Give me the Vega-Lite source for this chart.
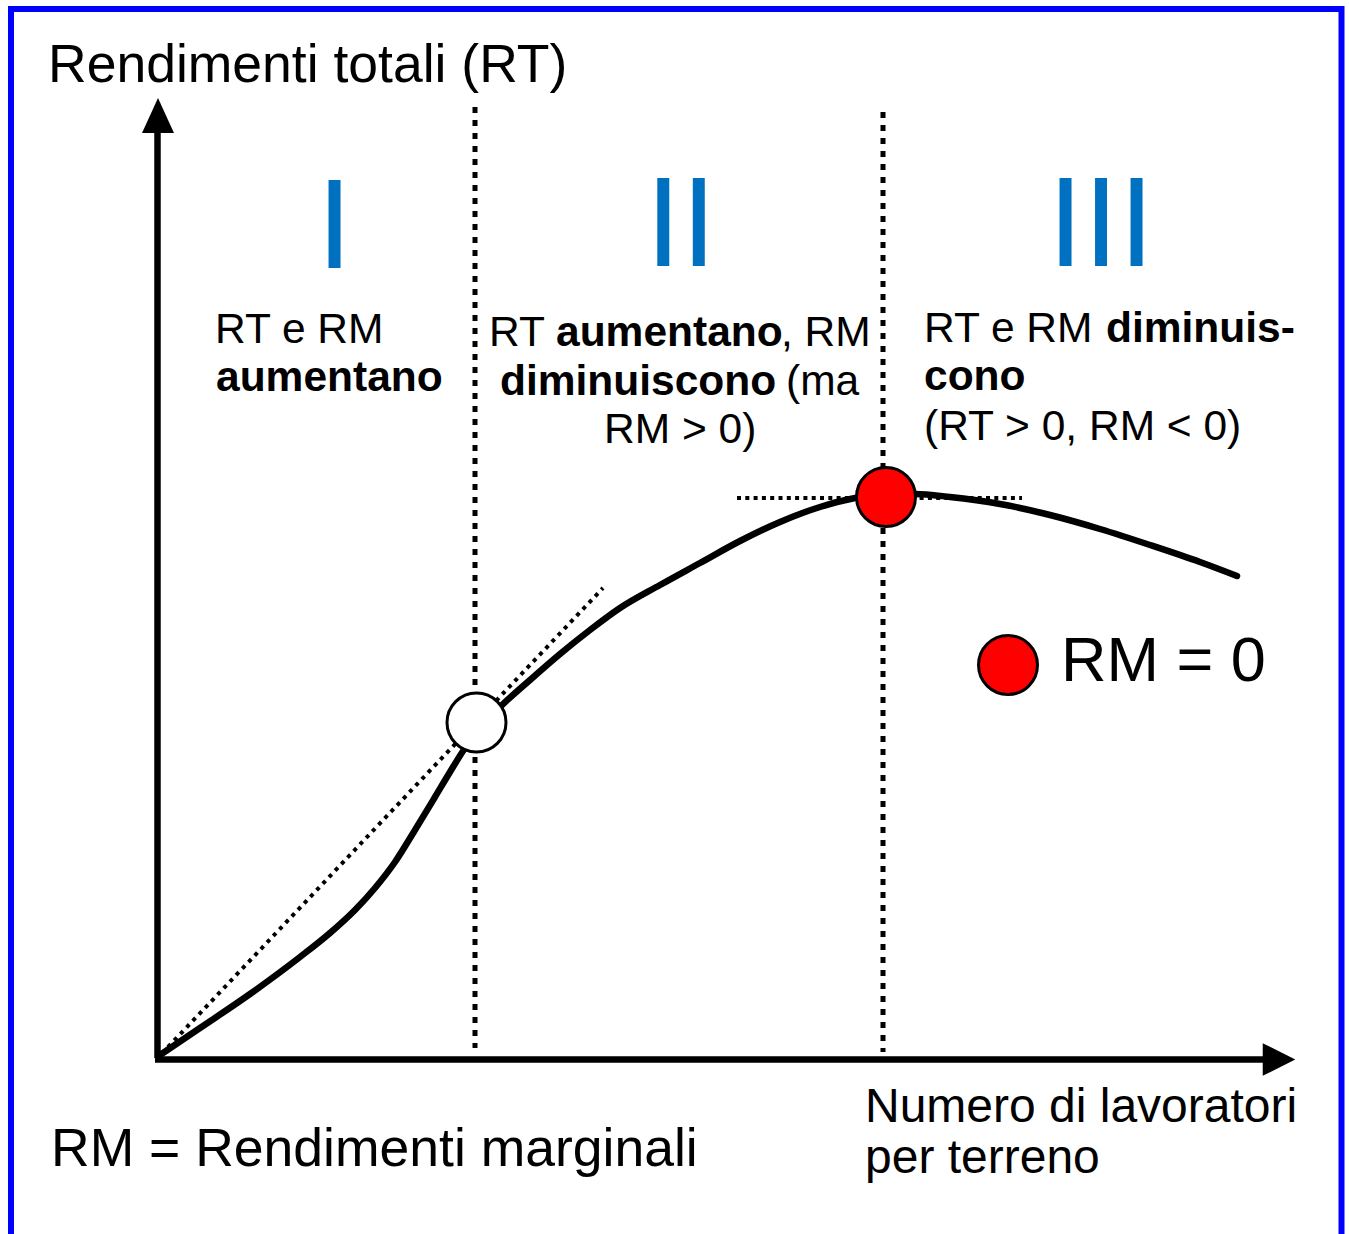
{
  "$schema": "https://vega.github.io/schema/vega-lite/v6.json",
  "width": 1349,
  "height": 1234,
  "autosize": "none",
  "padding": 0,
  "background": "white",
  "config": {"view": {"stroke": null}},
  "datasets": {
    "border": [
      {"x": 11, "y": 6, "x2": 11, "y2": 1234},
      {"x": 8, "y": 9, "x2": 1344, "y2": 9},
      {"x": 1341.5, "y": 6, "x2": 1341.5, "y2": 1234}
    ],
    "axes": [
      {"x": 157.5, "y": 1058, "x2": 157.5, "y2": 128},
      {"x": 155, "y": 1059.5, "x2": 1266, "y2": 1059.5}
    ],
    "arrowUp": [{"x": 158, "y": 115.5}],
    "arrowRight": [{"x": 1279, "y": 1059.5}],
    "vdots": [
      {"x": 475, "y": 107, "x2": 475, "y2": 1048},
      {"x": 883, "y": 112, "x2": 883, "y2": 1052}
    ],
    "hdot": [{"x": 737, "y": 498, "x2": 1022, "y2": 498}],
    "tangent": [{"x": 168, "y": 1047, "x2": 603, "y2": 588}],
    "curve": [
      {"x": 160, "y": 1055}, {"x": 200, "y": 1028}, {"x": 250, "y": 994},
      {"x": 300, "y": 957}, {"x": 330, "y": 933}, {"x": 355, "y": 910},
      {"x": 375, "y": 888}, {"x": 395, "y": 862}, {"x": 415, "y": 830},
      {"x": 435, "y": 797}, {"x": 450, "y": 772}, {"x": 465, "y": 748},
      {"x": 480, "y": 728}, {"x": 500, "y": 707}, {"x": 530, "y": 680},
      {"x": 560, "y": 654}, {"x": 590, "y": 630}, {"x": 620, "y": 608},
      {"x": 660, "y": 585}, {"x": 700, "y": 563}, {"x": 740, "y": 541},
      {"x": 780, "y": 522}, {"x": 820, "y": 507}, {"x": 855, "y": 498},
      {"x": 886, "y": 494}, {"x": 915, "y": 494}, {"x": 950, "y": 497},
      {"x": 1000, "y": 504}, {"x": 1050, "y": 515}, {"x": 1100, "y": 529},
      {"x": 1150, "y": 545}, {"x": 1200, "y": 562}, {"x": 1237, "y": 576}
    ],
    "circles": [
      {"x": 476.5, "y": 722.5, "kind": "white"},
      {"x": 886, "y": 497, "kind": "red"},
      {"x": 1008, "y": 665, "kind": "red"}
    ],
    "titles": [
      {"x": 48, "y": 82, "text": "Rendimenti totali (RT)"},
      {"x": 51, "y": 1166, "text": "RM = Rendimenti marginali"}
    ],
    "xlabel": [
      {"x": 865, "y": 1122, "text": "Numero di lavoratori"},
      {"x": 865, "y": 1173, "text": "per terreno"}
    ],
    "numerals": [
      {"x": 334.5, "y": 268, "text": "I"},
      {"x": 681, "y": 266, "text": "II"},
      {"x": 1101, "y": 266, "text": "III"}
    ],
    "panelNormal": [
      {"x": 215, "y": 343, "text": "RT e RM"},
      {"x": 489, "y": 346, "text": "RT"},
      {"x": 781, "y": 346, "text": ", RM"},
      {"x": 786, "y": 395, "text": "(ma"},
      {"x": 604, "y": 443, "text": "RM > 0)"},
      {"x": 924, "y": 342, "text": "RT e RM"},
      {"x": 924, "y": 440, "text": "(RT > 0, RM < 0)"}
    ],
    "panelBold": [
      {"x": 216, "y": 391, "text": "aumentano"},
      {"x": 556, "y": 346, "text": "aumentano"},
      {"x": 500, "y": 395, "text": "diminuiscono"},
      {"x": 1106, "y": 342, "text": "diminuis-"},
      {"x": 924, "y": 390, "text": "cono"}
    ],
    "legendText": [{"x": 1061, "y": 681, "text": "RM = 0"}]
  },
  "encoding": {
    "x": {"field": "x", "type": "quantitative", "scale": {"domain": [0, 1349], "nice": false, "zero": false}, "axis": null},
    "y": {"field": "y", "type": "quantitative", "scale": {"domain": [1234, 0], "nice": false, "zero": false}, "axis": null}
  },
  "layer": [
    {
      "data": {"name": "border"},
      "mark": {"type": "rule", "color": "#0000FF", "strokeWidth": 6},
      "encoding": {"x2": {"field": "x2"}, "y2": {"field": "y2"}}
    },
    {
      "data": {"name": "vdots"},
      "mark": {"type": "rule", "color": "black", "strokeWidth": 5, "strokeDash": [6, 7]},
      "encoding": {"x2": {"field": "x2"}, "y2": {"field": "y2"}}
    },
    {
      "data": {"name": "hdot"},
      "mark": {"type": "rule", "color": "black", "strokeWidth": 4, "strokeDash": [4, 4.3]},
      "encoding": {"x2": {"field": "x2"}, "y2": {"field": "y2"}}
    },
    {
      "data": {"name": "tangent"},
      "mark": {"type": "rule", "color": "black", "strokeWidth": 4, "strokeDash": [4, 5]},
      "encoding": {"x2": {"field": "x2"}, "y2": {"field": "y2"}}
    },
    {
      "data": {"name": "axes"},
      "mark": {"type": "rule", "color": "black", "strokeWidth": 6.5},
      "encoding": {"x2": {"field": "x2"}, "y2": {"field": "y2"}}
    },
    {
      "data": {"name": "arrowUp"},
      "mark": {"type": "point", "shape": "M0,-1L0.914,1L-0.914,1Z", "size": 1225, "filled": true, "color": "black", "opacity": 1}
    },
    {
      "data": {"name": "arrowRight"},
      "mark": {"type": "point", "shape": "M1,0L-1,-1L-1,1Z", "size": 1060, "filled": true, "color": "black", "opacity": 1}
    },
    {
      "data": {"name": "curve"},
      "mark": {"type": "line", "color": "black", "strokeWidth": 6.5, "interpolate": "monotone", "strokeCap": "round"},
      "encoding": {"order": {"field": "x", "type": "quantitative"}}
    },
    {
      "data": {"name": "circles"},
      "mark": {"type": "point", "shape": "circle", "size": 3481, "filled": true, "stroke": "black", "strokeWidth": 3, "opacity": 1},
      "encoding": {
        "fill": {"field": "kind", "type": "nominal", "scale": {"domain": ["white", "red"], "range": ["#FFFFFF", "#FF0000"]}, "legend": null}
      }
    },
    {
      "data": {"name": "titles"},
      "mark": {"type": "text", "font": "Liberation Sans", "fontSize": 53.5, "align": "left", "baseline": "alphabetic", "color": "black"},
      "encoding": {"text": {"field": "text"}}
    },
    {
      "data": {"name": "xlabel"},
      "mark": {"type": "text", "font": "Liberation Sans", "fontSize": 48, "align": "left", "baseline": "alphabetic", "color": "black"},
      "encoding": {"text": {"field": "text"}}
    },
    {
      "data": {"name": "numerals"},
      "mark": {"type": "text", "font": "Liberation Sans", "fontSize": 128, "align": "center", "baseline": "alphabetic", "color": "#0070C0"},
      "encoding": {"text": {"field": "text"}}
    },
    {
      "data": {"name": "panelNormal"},
      "mark": {"type": "text", "font": "Liberation Sans", "fontSize": 42.5, "align": "left", "baseline": "alphabetic", "color": "black"},
      "encoding": {"text": {"field": "text"}}
    },
    {
      "data": {"name": "panelBold"},
      "mark": {"type": "text", "font": "Liberation Sans", "fontSize": 42.5, "fontWeight": "bold", "align": "left", "baseline": "alphabetic", "color": "black"},
      "encoding": {"text": {"field": "text"}}
    },
    {
      "data": {"name": "legendText"},
      "mark": {"type": "text", "font": "Liberation Sans", "fontSize": 63, "align": "left", "baseline": "alphabetic", "color": "black"},
      "encoding": {"text": {"field": "text"}}
    }
  ]
}
